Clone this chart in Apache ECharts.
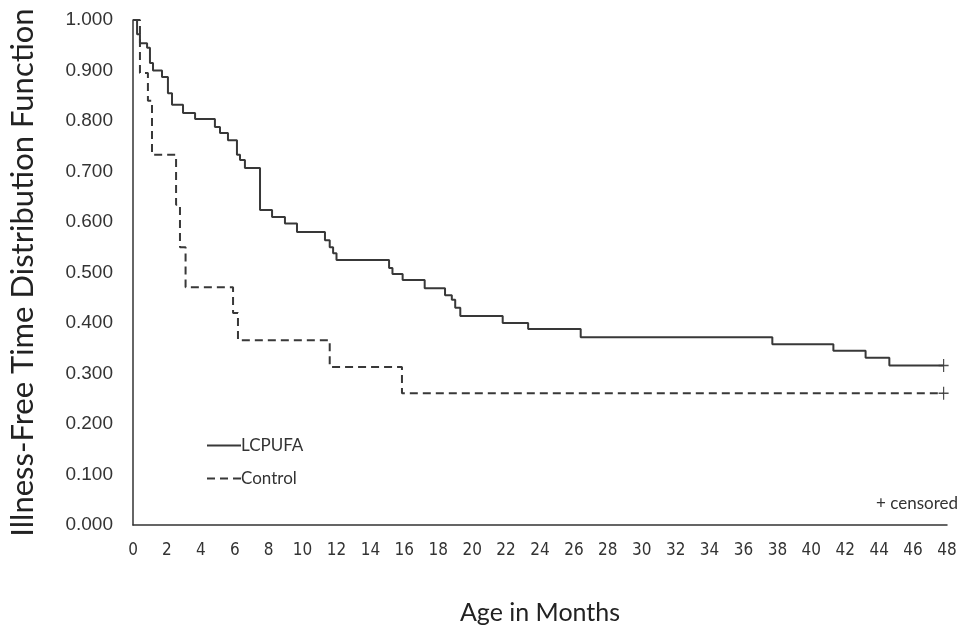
<!DOCTYPE html>
<html>
<head>
<meta charset="utf-8">
<script src="https://cdn.jsdelivr.net/npm/echarts@6/dist/echarts.min.js"></script>
<style>
html,body{margin:0;padding:0;background:#fff;}
#chart{width:969px;height:631px;}
</style>
</head>
<body>
<div id="chart"></div>
<script>
// Kaplan-Meier step points (month, illness-free proportion)
var lcpufaMonths = [0, 0.24, 0.41, 0.83, 1.0, 1.18, 1.71, 2.06, 2.3, 2.95, 3.66, 4.83, 5.13, 5.6, 6.13, 6.31, 6.6, 7.49, 8.2, 8.96, 9.67, 11.32, 11.6, 11.8, 12.0, 15.1, 15.3, 15.9, 17.2, 18.4, 18.8, 19.0, 19.3, 21.8, 23.3, 26.4, 37.7, 41.3, 43.2, 44.6, 47.8];
var lcpufaValues = [1.0, 0.972, 0.954, 0.945, 0.915, 0.90, 0.887, 0.855, 0.832, 0.816, 0.804, 0.788, 0.776, 0.762, 0.733, 0.723, 0.707, 0.624, 0.61, 0.597, 0.58, 0.564, 0.55, 0.538, 0.525, 0.509, 0.497, 0.485, 0.469, 0.455, 0.446, 0.43, 0.414, 0.40, 0.388, 0.372, 0.358, 0.345, 0.331, 0.316, 0.316];
var controlMonths = [0, 0.41, 0.88, 1.12, 2.54, 2.77, 3.1, 5.9, 6.19, 11.6, 15.86, 47.8];
var controlValues = [1.0, 0.895, 0.84, 0.733, 0.634, 0.55, 0.471, 0.42, 0.366, 0.313, 0.261, 0.261];
var censorMonths = [47.8, 47.8];
var censorValues = [0.316, 0.261];
var seriesNames = ['LCPUFA', 'Control'];
var xTicks = {min: 0, max: 48, interval: 2};
var yTicks = {min: 0, max: 1, interval: 0.1};

function pairs(xs, ys){ return xs.map(function(x,i){ return [x, ys[i]]; }); }

var chart = echarts.init(document.getElementById('chart'), null, {renderer:'canvas'});
var calibri = 'Lato, "Open Sans", sans-serif';
var plusPath = 'path://M4.4,0 L5.6,0 L5.6,4.4 L10,4.4 L10,5.6 L5.6,5.6 L5.6,10 L4.4,10 L4.4,5.6 L0,5.6 L0,4.4 L4.4,4.4 Z';
chart.setOption({
  backgroundColor: '#fff',
  animation: false,
  grid: {left: 133, right: 22, top: 20, bottom: 106, containLabel: false, outerBoundsMode: 'none'},
  title: {
    text: '+ censored', right: 6, top: 490,
    textStyle: {fontFamily: calibri, fontSize: 17, fontWeight: 'normal', color: '#333'}
  },
  legend: {
    data: seriesNames,
    orient: 'vertical', left: 201, top: 432,
    itemWidth: 34, itemHeight: 14, itemGap: 16,
    itemStyle: {opacity: 0},
    textStyle: {fontFamily: calibri, fontSize: 17, color: '#333', padding: [0,0,0,-5]}
  },
  xAxis: {
    type: 'value', min: xTicks.min, max: xTicks.max, interval: xTicks.interval,
    name: 'Age in Months', nameLocation: 'middle', nameGap: 75,
    nameTextStyle: {fontFamily: calibri, fontSize: 25, color: '#222'},
    axisLine: {show: true, lineStyle: {color: '#333', width: 1.5}},
    axisTick: {show: false},
    splitLine: {show: false},
    axisLabel: {margin: 17, fontFamily: '"Liberation Sans Narrow", "DejaVu Sans Condensed", "Liberation Sans", sans-serif', fontSize: 17, color: '#333'}
  },
  yAxis: {
    type: 'value', min: yTicks.min, max: yTicks.max, interval: yTicks.interval,
    name: 'Illness-Free Time Distribution Function', nameLocation: 'middle', nameGap: 95,
    nameTextStyle: {fontFamily: calibri, fontSize: 31, color: '#222'},
    axisLine: {show: true, lineStyle: {color: '#333', width: 1.5}},
    axisTick: {show: false},
    splitLine: {show: false},
    axisLabel: {margin: 20, fontFamily: '"Liberation Sans", Arial, sans-serif', fontSize: 19, color: '#333',
      formatter: function(v){ return v.toFixed(3); }}
  },
  series: [
    {
      name: seriesNames[0], type: 'line', step: 'end', symbol: 'none',
      data: pairs(lcpufaMonths, lcpufaValues),
      lineStyle: {color: '#383838', width: 2},
      itemStyle: {color: '#383838'}
    },
    {
      name: seriesNames[1], type: 'line', step: 'end', symbol: 'none',
      data: pairs(controlMonths, controlValues),
      lineStyle: {color: '#383838', width: 2, type: [8, 5]},
      itemStyle: {color: '#383838'}
    },
    {
      name: 'censored', type: 'scatter', symbol: plusPath, symbolSize: [10, 13],
      data: pairs(censorMonths, censorValues),
      itemStyle: {color: '#222'}
    }
  ]
});
</script>
</body>
</html>
